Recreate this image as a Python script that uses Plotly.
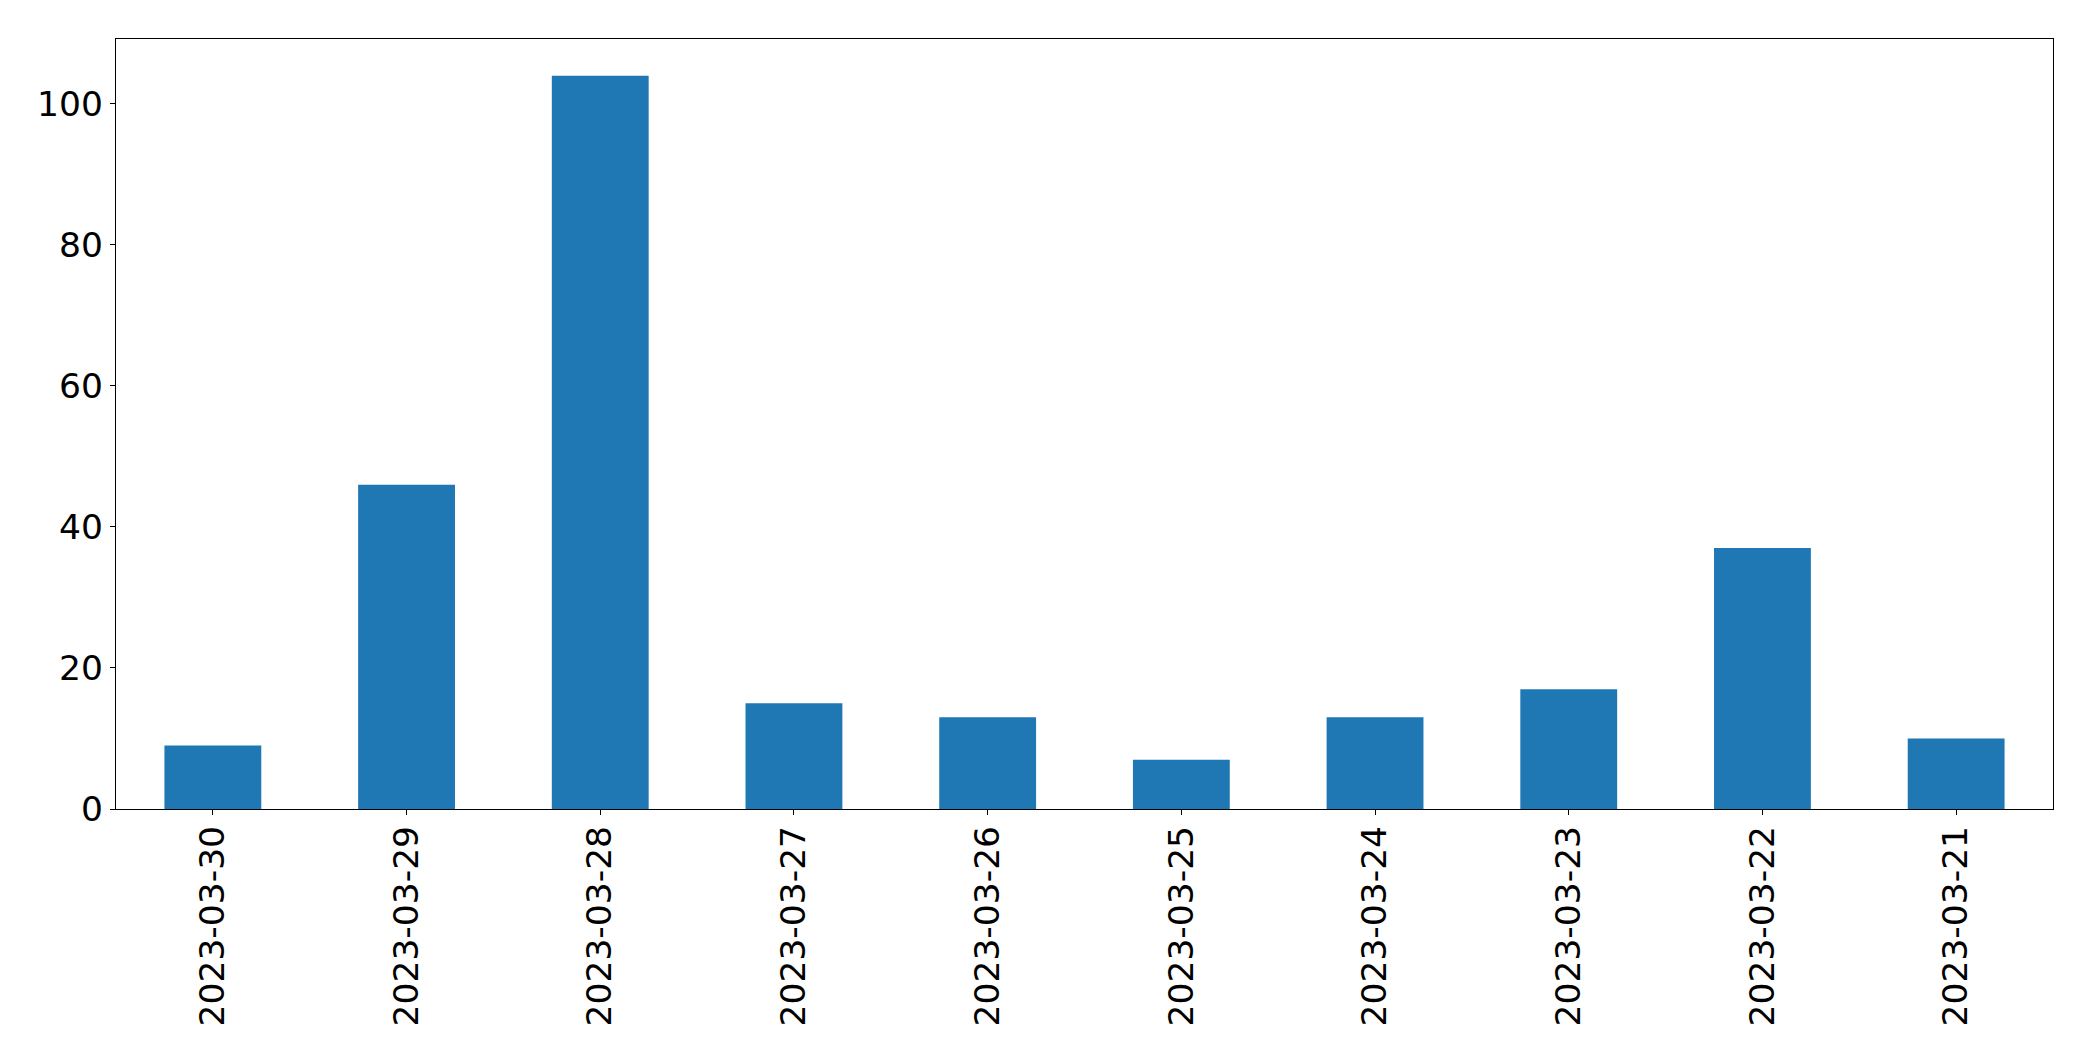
import plotly.graph_objects as go

categories = ["2023-03-30", "2023-03-29", "2023-03-28", "2023-03-27", "2023-03-26",
              "2023-03-25", "2023-03-24", "2023-03-23", "2023-03-22", "2023-03-21"]
values = [9, 46, 104, 15, 13, 7, 13, 17, 37, 10]
y_ticks = [0, 20, 40, 60, 80, 100]

fig = go.Figure(go.Bar(x=categories, y=values, marker=dict(color="#1f77b4", line=dict(width=0)),
                       width=0.5))

font = dict(family="DejaVu Sans", size=34.5, color="black")
fig.update_layout(
    width=2093, height=1061,
    margin=dict(l=116, r=40, t=39, b=252),
    paper_bgcolor="white", plot_bgcolor="white",
    font=font, showlegend=False,
    bargap=0.5,
)
fig.update_xaxes(
    type="category", range=[-0.5, len(categories) - 0.5],
    showline=True, mirror=True, linecolor="black", linewidth=1.3,
    ticks="outside", ticklen=5, tickcolor="black", tickwidth=1.3,
    tickangle=-90, tickfont=font, showgrid=False, zeroline=False,
    ticklabelstandoff=-3,
)
fig.update_yaxes(
    range=[0, 104 * 1.05], tickvals=y_ticks,
    showline=True, mirror=True, linecolor="black", linewidth=1.3,
    ticks="outside", ticklen=5, tickcolor="black", tickwidth=1.3,
    tickfont=font, showgrid=False, zeroline=False,
    ticklabelstandoff=0,
)
fig.write_html("out.html", config={"displayModeBar": False},
               post_script="document.body.style.margin='0';")
